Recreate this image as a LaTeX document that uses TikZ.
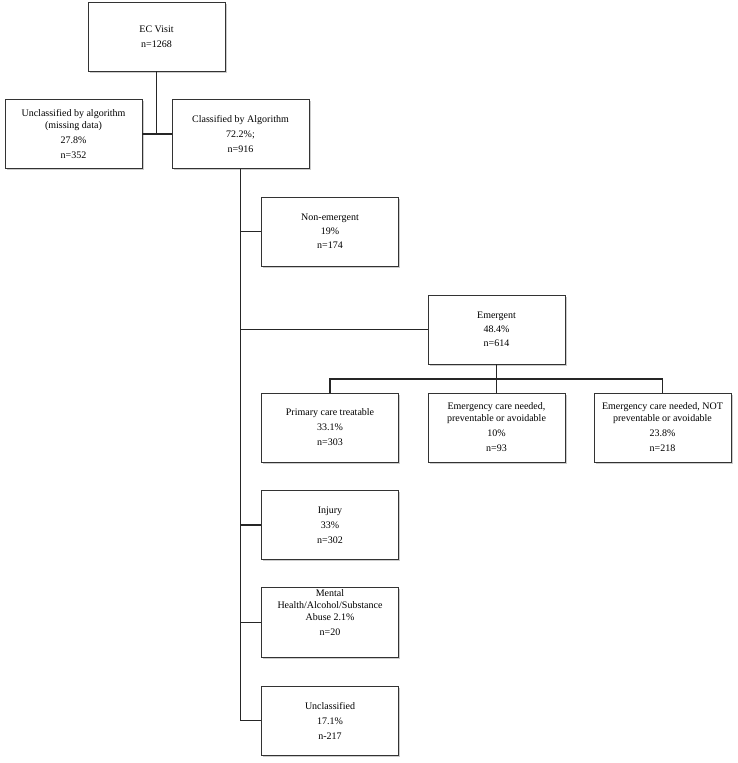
\documentclass[tikz,border=0pt]{standalone}
\usepackage{fontspec}
\setmainfont{Liberation Serif}
\usetikzlibrary{shadows}
\begin{document}
\begin{tikzpicture}[x=1pt,y=-1pt,
  box/.style={draw=black!80, line width=0.9pt, fill=white, minimum width=137pt, minimum height=69pt,
    inner sep=2pt, align=center, font=\fontsize{10}{12}\selectfont,
    drop shadow={shadow xshift=1.6pt, shadow yshift=-1.6pt, fill=black!25, opacity=0.8}},
  conn/.style={draw=black!85, line width=1.1pt}]
\useasboundingbox (0,0) rectangle (738,763);
\node[box] (ec) at (156.5,36.5) {EC Visit\\[3pt] n=1268};
\node[box] (unc) at (73.5,134) {Unclassified by algorithm\\ (missing data)\\[3pt] 27.8\%\\[3pt] n=352};
\node[box] (cls) at (240.5,134) {Classified by Algorithm\\[3pt] 72.2\%;\\[3pt] n=916};
\node[box] (ne) at (330,231.5) {Non-emergent\\[2pt] 19\%\\[2pt] n=174};
\node[box] (em) at (496.5,329.5) {Emergent\\[2pt] 48.4\%\\[2pt] n=614};
\node[box] (pc) at (330,427.5) {Primary care treatable\\[3pt] 33.1\%\\[3pt] n=303};
\node[box] (ecp) at (496.5,427.5) {Emergency care needed,\\ preventable or avoidable\\[3pt] 10\%\\[3pt] n=93};
\node[box] (ecn) at (662.5,427.5) {Emergency care needed, NOT\\ preventable or avoidable\\[3pt] 23.8\%\\[3pt] n=218};
\node[box] (inj) at (330,525) {Injury\\[3pt] 33\%\\[3pt] n=302};
\node[box] (mh) at (330,622.5) {Mental\\ Health/Alcohol/Substance\\ Abuse 2.1\%\\[3pt] n=20\\[8pt]};
\node[box] (un2) at (330,720.5) {Unclassified\\[3pt] 17.1\%\\[3pt] n-217};
\coordinate (j1) at (ec.south |- unc.east);
\coordinate (mainend) at (cls.south |- un2.west);
\coordinate (j2) at (496.5,379);
\draw[conn] (ec.south) -- (j1);
\draw[conn] (unc.east) -- (cls.west);
\draw[conn] (cls.south) -- (mainend);
\draw[conn] (cls.south |- ne.west) -- (ne.west);
\draw[conn] (cls.south |- em.west) -- (em.west);
\draw[conn] (cls.south |- inj.west) -- (inj.west);
\draw[conn] (cls.south |- mh.west) -- (mh.west);
\draw[conn] (mainend) -- (un2.west);
\draw[conn] (em.south) -- (j2);
\draw[conn] (pc.north) -- (pc.north |- j2) -- (ecn.north |- j2) -- (ecn.north);
\draw[conn] (j2) -- (ecp.north);
\end{tikzpicture}
\end{document}
